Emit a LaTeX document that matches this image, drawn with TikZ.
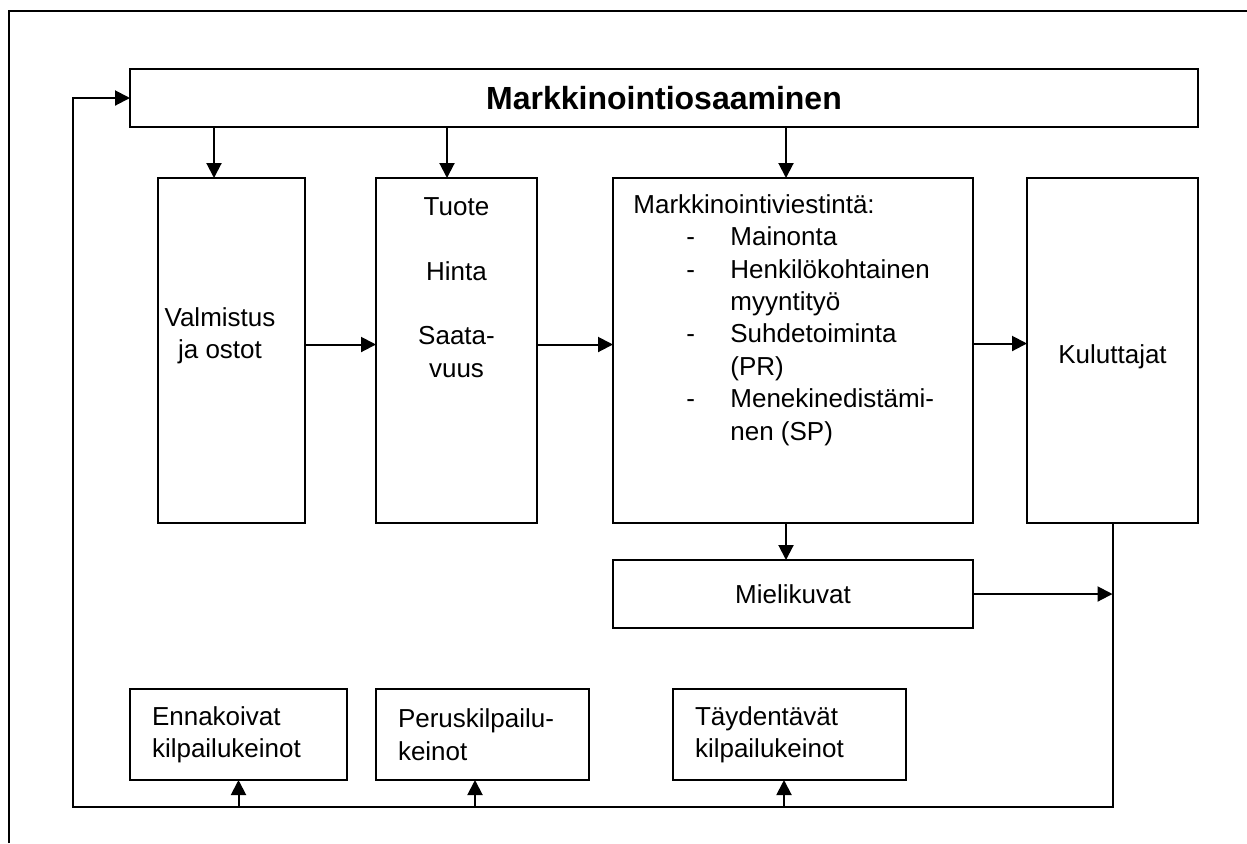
\documentclass[tikz,border=0pt]{standalone}
\usepackage{fontspec}
\setmainfont{Liberation Sans}
\usetikzlibrary{positioning,calc,arrows.meta}

\newcommand{\listitem}[1]{\makebox[48.5pt][l]{\hspace*{26.5pt}-}#1}
\newcommand{\listcont}[1]{\hspace*{48.5pt}#1}

\begin{document}
\begin{tikzpicture}[every node/.style={font=\fontsize{13}{16.2}\selectfont},
				block/.style={draw,rectangle,line width=1pt,inner sep=0pt,outer sep=0pt,align=center},
				lowblock/.style={block,minimum height=45.5pt,inner xsep=11pt,align=left},
				txt/.style={inner sep=0pt},
				arr/.style={-{Triangle[length=7.5pt,width=7.5pt]},line width=1pt}]
				\useasboundingbox (0,0) rectangle (623.5pt,-421.5pt);
				\draw[line width=1pt] (4.5pt,-421.5pt) -- (4.5pt,-5.5pt) -- (623.5pt,-5.5pt);

				\node (osaaminen)  [block,minimum width=534pt,minimum height=29pt,font=\bfseries\fontsize{16}{19}\selectfont]
					at (332pt,-49pt) {Markkinointiosaaminen};
				\node (valmistus)  [block,minimum width=73.5pt,minimum height=172.5pt,anchor=north west]
					at ([shift={(14pt,-25.5pt)}]osaaminen.south west) {};
				\node (tuote)      [block,minimum width=80.5pt,minimum height=172.5pt,right=35.5pt of valmistus] {};
				\node (viestinta)  [block,minimum width=180pt,minimum height=172.5pt,right=38pt of tuote] {};
				\node (kuluttajat) [block,minimum width=85.5pt,minimum height=172.5pt,right=27pt of viestinta] {};
				\node (mielikuvat) [block,minimum width=180pt,minimum height=34pt,below=18.5pt of viestinta] {Mielikuvat};
				\node (ennakoivat) [lowblock,text width=86.5pt,anchor=north west] at (65pt,-344.5pt) {Ennakoivat\\kilpailukeinot};
				\node (perus)      [lowblock,text width=84.5pt,right=14.5pt of ennakoivat] {Peruskilpailu-\\keinot};
				\node (taydentavat)[lowblock,text width=94.5pt,right=42pt of perus] {Täydentävät\\kilpailukeinot};

				% texts inside the tall boxes
				\node (valmistus-t)  [txt,align=center] at ([shift={(-5.75pt,7.5pt)}]valmistus.center) {Valmistus\\ja ostot};
				\node (tuote-t)      [txt,align=center] at ([yshift=31.5pt]tuote.center) {Tuote\\ \\Hinta\\ \\Saata-\\vuus};
				\node (viestinta-t)  [txt,align=left,anchor=west] at ([shift={(10pt,15.25pt)}]viestinta.west)
					{Markkinointiviestintä:\\\listitem{Mainonta}\\\listitem{Henkilökohtainen}\\\listcont{myyntityö}\\
					\listitem{Suhdetoiminta}\\\listcont{(PR)}\\\listitem{Menekinedistämi-}\\\listcont{nen (SP)}};
				\node (kuluttajat-t) [txt] at ([yshift=-3pt]kuluttajat.center) {Kuluttajat};

				\coordinate (loop) at (36.5pt,-403.5pt);

				\draw[arr] ([xshift=-8.75pt]valmistus.north |- osaaminen.south) -- ([xshift=-8.75pt]valmistus.north);
				\draw[arr] ([xshift=-4.75pt]tuote.north |- osaaminen.south) -- ([xshift=-4.75pt]tuote.north);
				\draw[arr] ([xshift=-3.5pt]viestinta.north |- osaaminen.south) -- ([xshift=-3.5pt]viestinta.north);
				\draw[arr] ([yshift=3pt]valmistus.east) -- ([yshift=3pt]tuote.west);
				\draw[arr] ([yshift=3pt]tuote.east) -- ([yshift=3pt]viestinta.west);
				\draw[arr] ([yshift=3.5pt]viestinta.east) -- ([yshift=3.5pt]kuluttajat.west);
				\draw[arr] ([xshift=-3.5pt]viestinta.south) -- ([xshift=-3.5pt]mielikuvat.north);
				\draw[arr] (mielikuvat.east) -- (mielikuvat.east -| kuluttajat.south);
				\draw[arr] (kuluttajat.south) |- (loop) |- (osaaminen.west);
				\draw[arr] (ennakoivat.south |- loop) -- (ennakoivat.south);
				\draw[arr] ([xshift=-3.75pt]perus.south |- loop) -- ([xshift=-3.75pt]perus.south);
				\draw[arr] ([xshift=-2.75pt]taydentavat.south |- loop) -- ([xshift=-2.75pt]taydentavat.south);
			\end{tikzpicture}
\end{document}
